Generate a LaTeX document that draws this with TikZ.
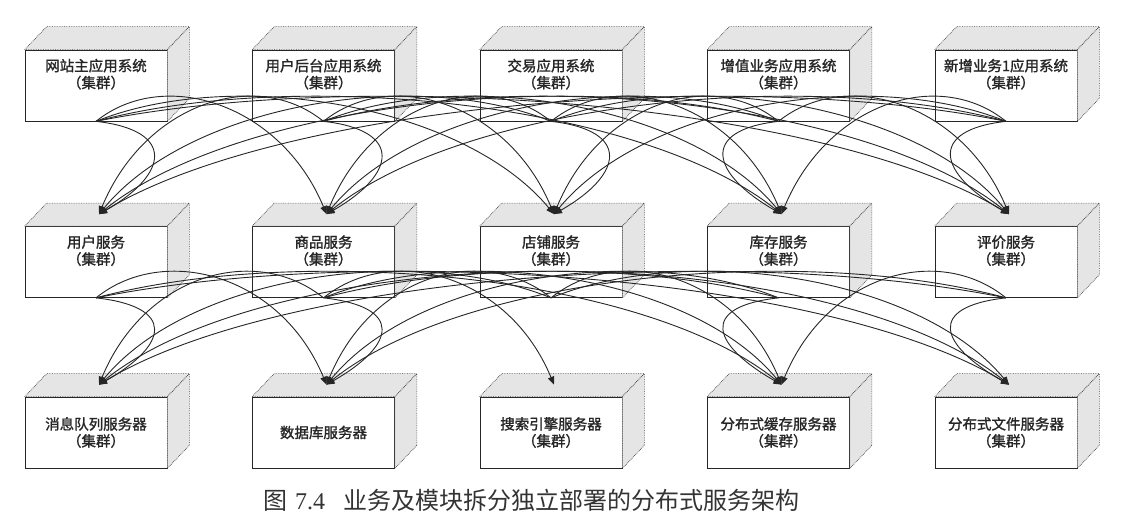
\documentclass[tikz,border=0pt]{standalone}
\usepackage{fontspec}
\setmainfont{Liberation Serif}
\newfontfamily\cjk{Noto Sans CJK SC}
\newfontfamily\cjkbox[FakeBold=1.4]{Noto Sans CJK SC}
\usetikzlibrary{arrows.meta,calc}

\begin{document}
\begin{tikzpicture}[x=1pt,y=-1pt,
    front/.style={draw=black!85,line width=0.7pt,fill=white,minimum width=142pt,minimum height=71pt,inner sep=0pt},
    face/.style={draw=black!75,densely dotted,line width=0.7pt,fill=black!10},
    boxtext/.style={font=\cjkbox\fontsize{14.5}{17}\selectfont,align=center,inner sep=0pt,text=black!85},
    link/.style={line width=0.9pt,black!85,-{Triangle[length=8pt,width=6.5pt]}}]
  \useasboundingbox (0,0) rectangle (1133,526);
  % application systems
  \foreach \lab [count=\i] in {网站主应用系统,用户后台应用系统,交易应用系统,增值业务应用系统,新增业务1应用系统}{
    \node[front] (app\i) at ({96+227.5*(\i-1)},85.5) {};
    \node[boxtext,anchor=north] at ($(app\i.north)+(0,9)$) {\lab\\（集群）};
  }
  % services
  \foreach \lab [count=\i] in {用户服务,商品服务,店铺服务,库存服务,评价服务}{
    \node[front] (svc\i) at ({96+227.5*(\i-1)},262) {};
    \node[boxtext,anchor=north] at ($(svc\i.north)+(0,9)$) {\lab\\（集群）};
  }
  % servers
  \foreach \lab [count=\i] in {{消息队列服务器\\（集群）},数据库服务器,{搜索引擎服务器\\（集群）},{分布式缓存服务器\\（集群）},{分布式文件服务器\\（集群）}}{
    \node[front] (srv\i) at ({96+227.5*(\i-1)},432.5) {};
    \node[boxtext] at (srv\i) {\lab};
  }
  % top and side faces
  \foreach \r in {app,svc,srv}
    \foreach \i in {1,...,5}{
      \filldraw[face] (\r\i.north west) -- ++(22,-23) -- ($(\r\i.north east)+(22,-23)$) -- (\r\i.north east) -- cycle;
      \filldraw[face] (\r\i.north east) -- ++(22,-23) -- ($(\r\i.south east)+(22,-23)$) -- (\r\i.south east) -- cycle;
    }
  \foreach \i in {1,...,5}{
    \coordinate (tsvc\i) at ($(svc\i.north)+(3,-12)$);
    \coordinate (tsrv\i) at ($(srv\i.north)+(3,-12)$);
  }
  % systems -> services
  \foreach \i in {1,...,5}
    \foreach \j in {1,...,5}{
      \pgfmathsetmacro{\d}{(\j-\i)*227.5}
      \ifnum\i=\j
        \pgfmathsetmacro{\s}{\i<4 ? 1 : -1}
        \draw[link] (app\i.south) .. controls ($(app\i.south)+(80*\s,9)$) and ($(tsvc\j)+(70*\s,-40)$) .. (tsvc\j);
      \else
        \draw[link] (app\i.south) .. controls ($(app\i.south)+(0.3*\d,-55)$) and ($(tsvc\j)+(-0.2*\d,-110)$) .. (tsvc\j);
      \fi
    }
  % services -> servers
  \foreach \i/\j in {1/1,1/2,1/4,1/5,2/1,2/2,2/3,2/4,2/5,3/1,3/2,3/4,3/5,4/1,4/2,4/4,5/1,5/2,5/4,5/5}{
    \pgfmathsetmacro{\d}{(\j-\i)*227.5}
    \ifnum\i=\j
      \pgfmathsetmacro{\s}{\i<4 ? 1 : -1}
      \draw[link] (svc\i.south) .. controls ($(svc\i.south)+(80*\s,9)$) and ($(tsrv\j)+(70*\s,-40)$) .. (tsrv\j);
    \else
      \draw[link] (svc\i.south) .. controls ($(svc\i.south)+(0.3*\d,-55)$) and ($(tsrv\j)+(-0.2*\d,-110)$) .. (tsrv\j);
    \fi
  }
  \node[anchor=base west,inner sep=0pt,font=\fontsize{24}{26}\selectfont,text=black!80] (cap) at (263,509)
    {{\cjk 图}\hspace{8pt}7.4\hspace{18pt}{\cjk 业务及模块拆分独立部署的分布式服务架构}};
\end{tikzpicture}
\end{document}
